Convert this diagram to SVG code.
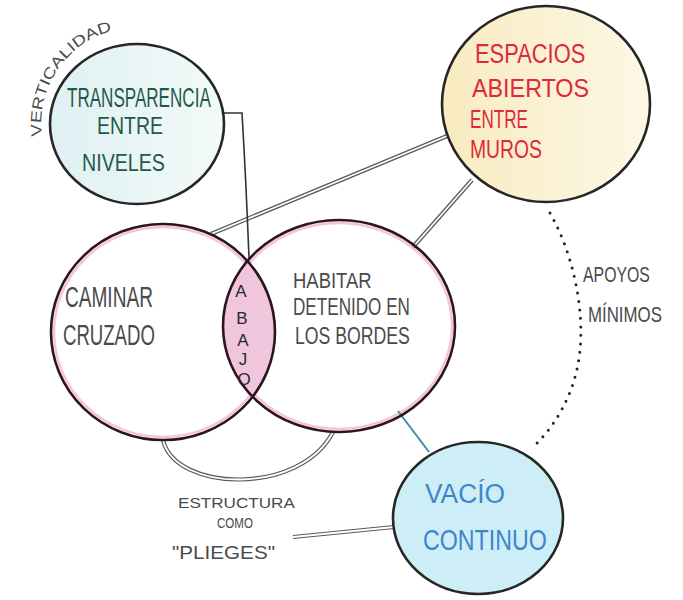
<svg xmlns="http://www.w3.org/2000/svg" width="683" height="600" viewBox="0 0 683 600">
<style>
.t{font-family:"Liberation Sans",Arial,sans-serif;}
.circ{stroke:#262626;stroke-width:2.6;}
.pk{fill:none;stroke:#2e1420;stroke-width:2.6;}
.dblo{fill:none;stroke:#5a5a5a;stroke-width:4.2;stroke-linecap:butt;}
.dbli{fill:none;stroke:#ffffff;stroke-width:1.8;}
.gray{fill:#4a4a4a;}
.grn{fill:#1f5a48;}
.red{fill:#e0283c;}
.blu{fill:#3d86cc;}
</style>
<defs>
<clipPath id="clipL"><ellipse cx="163" cy="332" rx="112" ry="108"/></clipPath>
<path id="vpath" d="M 42 136 A 96 96 0 0 1 126 28"/>
<linearGradient id="gT" x1="0" y1="0" x2="1" y2="0">
  <stop offset="0" stop-color="#dff0f3"/>
  <stop offset="1" stop-color="#f3faf8"/>
</linearGradient>
<linearGradient id="gE" x1="0" y1="0" x2="1" y2="0">
  <stop offset="0" stop-color="#f8ebc0"/>
  <stop offset="1" stop-color="#fdf8e6"/>
</linearGradient>
</defs>
<rect width="683" height="600" fill="#ffffff"/>

<g id="connectors">
  <path class="dblo" d="M 447 136 L 211 234"/>
  <path class="dbli" d="M 447 136 L 211 234"/>
  <path class="dblo" d="M 472 180 L 413 247"/>
  <path class="dbli" d="M 472 180 L 413 247"/>
  <path d="M 223 113 L 242 113 Q 246 180 249 258" fill="none" stroke="#333" stroke-width="1.6"/>
  <path class="dblo" d="M 163 440 C 175 492, 300 496, 333 432"/>
  <path class="dbli" d="M 163 440 C 175 492, 300 496, 333 432"/>
  <path class="dblo" d="M 293 537 L 394 527"/>
  <path class="dbli" d="M 293 537 L 394 527"/>
  <path d="M 398 411 L 429 452" fill="none" stroke="#3a8db0" stroke-width="2"/>
  <path d="M 550 213 C 574 255, 584 310, 580 350 C 576 395, 552 430, 532 448" fill="none" stroke="#222" stroke-width="3" stroke-dasharray="0 8.5" stroke-linecap="round"/>
</g>

<g id="transparencia">
  <ellipse class="circ" cx="137" cy="124" rx="87" ry="80" fill="url(#gT)"/>
  <text class="t grn" font-size="27" transform="translate(67,107) scale(0.632,1)">TRANSPARENCIA</text>
  <text class="t grn" font-size="24" transform="translate(97,134) scale(0.812,1)">ENTRE</text>
  <text class="t grn" font-size="24" transform="translate(82,171) scale(0.819,1)">NIVELES</text>
</g>

<g id="verticalidad">
  <text class="t gray" font-size="15"><textPath href="#vpath" textLength="138" lengthAdjust="spacingAndGlyphs">VERTICALIDAD</textPath></text>
</g>

<g id="espacios">
  <ellipse class="circ" cx="546" cy="104" rx="104" ry="98" fill="url(#gE)"/>
  <text class="t red" font-size="27" transform="translate(475,63) scale(0.811,1)">ESPACIOS</text>
  <text class="t red" font-size="26" transform="translate(472,97) scale(0.897,1)">ABIERTOS</text>
  <text class="t red" font-size="25" transform="translate(470,128) scale(0.685,1)">ENTRE</text>
  <text class="t red" font-size="25" transform="translate(470,158) scale(0.774,1)">MUROS</text>
</g>

<g id="caminar">
  <ellipse cx="163" cy="332" rx="112" ry="108" fill="#ffffff"/>
  <ellipse cx="163" cy="332" rx="109" ry="105" fill="none" stroke="#e45a86" stroke-width="2.5" opacity="0.35"/>
  <text class="t gray" font-size="30" transform="translate(65,307) scale(0.636,1)">CAMINAR</text>
  <text class="t gray" font-size="30" transform="translate(63,345) scale(0.62,1)">CRUZADO</text>
</g>

<g id="habitar">
  <ellipse cx="339" cy="326" rx="113" ry="103" fill="none" stroke="#e45a86" stroke-width="2.5" opacity="0.35"/>
  <text class="t gray" font-size="22" transform="translate(293,288) scale(0.839,1)">HABITAR</text>
  <text class="t gray" font-size="23" transform="translate(293,315) scale(0.744,1)">DETENIDO EN</text>
  <text class="t gray" font-size="23" transform="translate(295,344) scale(0.769,1)">LOS BORDES</text>
</g>

<g id="abajo">
  <ellipse cx="339" cy="326" rx="116" ry="106" fill="#f0c6dc" clip-path="url(#clipL)"/>
  <ellipse class="pk" cx="163" cy="332" rx="112" ry="108"/>
  <ellipse class="pk" cx="339" cy="326" rx="116" ry="106"/>
  <g class="t" font-size="17" fill="#2a2a2a" text-anchor="middle">
    <text x="241" y="297">A</text>
    <text x="242" y="324">B</text>
    <text x="243" y="346">A</text>
    <text x="243" y="365">J</text>
    <text x="244" y="385">O</text>
  </g>
</g>

<g id="estructura">
  <text class="t gray" font-size="15" transform="translate(178,508) scale(1.14,1)">ESTRUCTURA</text>
  <text class="t gray" font-size="14" transform="translate(217,528) scale(0.826,1)">COMO</text>
  <text class="t gray" font-size="19" transform="translate(172,559) scale(1.087,1)">"PLIEGES"</text>
</g>

<g id="vacio">
  <ellipse class="circ" cx="478" cy="518" rx="85" ry="76" fill="#cdeef7"/>
  <text class="t blu" font-size="27" transform="translate(425,503) scale(0.976,1)">VACÍO</text>
  <text class="t blu" font-size="29" transform="translate(423,550) scale(0.8,1)">CONTINUO</text>
</g>

<g id="apoyos">
  <text class="t gray" font-size="22" transform="translate(583,282) scale(0.721,1)">APOYOS</text>
  <text class="t gray" font-size="22" transform="translate(588,322) scale(0.766,1)">MÍNIMOS</text>
</g>
</svg>
